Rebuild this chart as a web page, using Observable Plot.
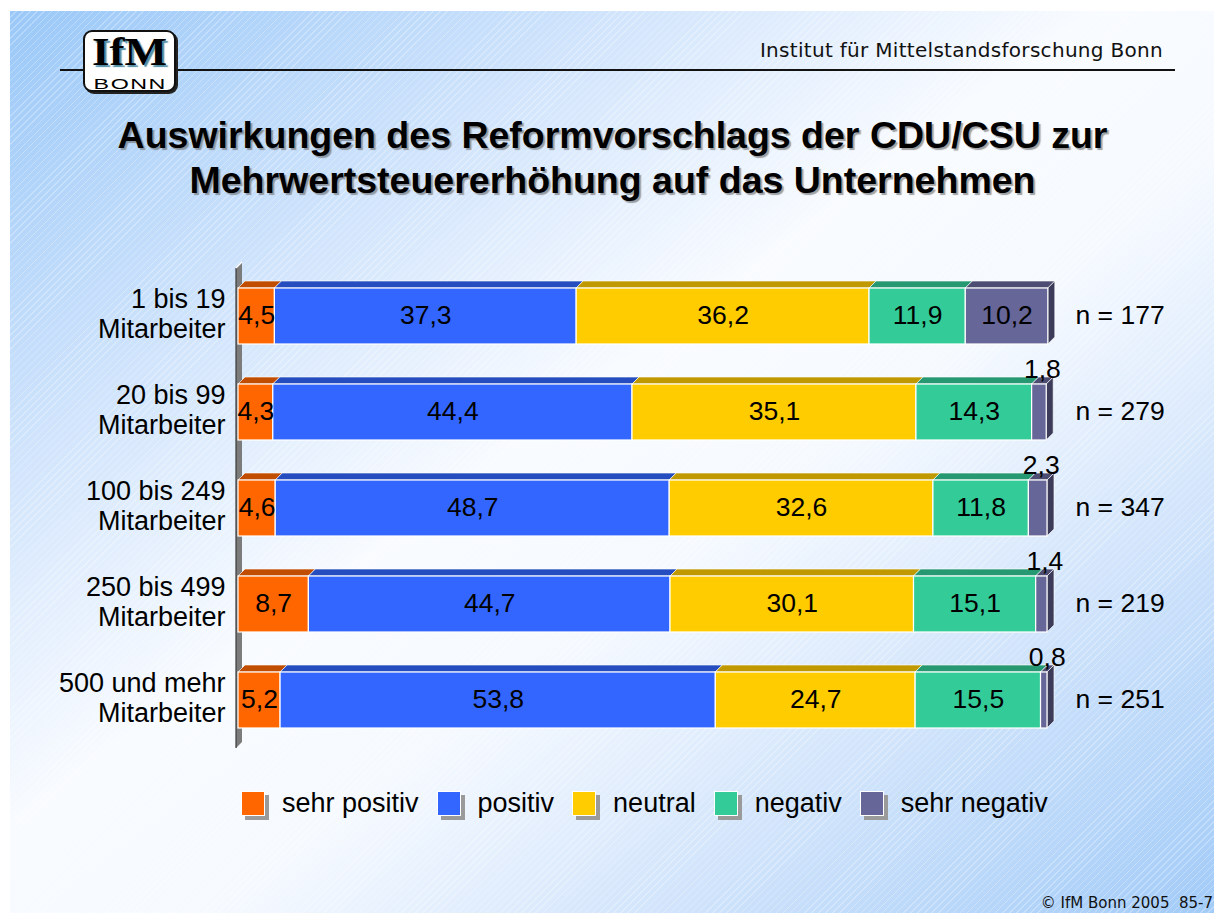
<!DOCTYPE html>
<html><head><meta charset="utf-8">
<script src="https://cdn.jsdelivr.net/npm/d3@7"></script>
<script src="https://cdn.jsdelivr.net/npm/@observablehq/plot@0.6"></script>
<style>
html,body{margin:0;padding:0;}
body{width:1217px;height:913px;position:relative;overflow:hidden;background:#fff;font-family:"Liberation Sans",Arial,sans-serif;}
#slide{position:absolute;left:10px;top:11px;width:1204px;height:902px;
 background:linear-gradient(to bottom right,#9ac8f8 0%,#d0e4fc 25%,#f8fbff 45%,#f6faff 58%,#cfe3fb 78%,#a2cbf8 100%);}
#stripes{position:absolute;left:0;top:0;width:100%;height:100%;
 background:repeating-linear-gradient(135deg,rgba(255,255,255,0) 0px,rgba(255,255,255,0) 4px,rgba(255,255,255,0.28) 4px,rgba(255,255,255,0.28) 5px);}
#hline{position:absolute;left:60px;top:69px;width:1115px;height:2px;background:#111;}
#inst{position:absolute;right:54px;top:38px;font-family:"DejaVu Sans",Verdana,sans-serif;font-size:20px;letter-spacing:0.3px;color:#111;white-space:nowrap;}
#logo{position:absolute;left:83px;top:30px;width:89px;height:58px;background:#fff;border:2px solid #111;border-radius:9px;box-shadow:2px 2px 0 #222;}
#logo .ifm{position:absolute;left:0;width:89px;top:-1px;line-height:1;text-align:center;font-family:"Liberation Serif","Times New Roman",serif;font-weight:bold;font-size:41px;color:#000;text-shadow:2px 2px 1px #4f8ea6;transform:scaleX(1.1);transform-origin:50% 50%;}
#logo .bonn{position:absolute;left:0;width:89px;top:43.5px;line-height:1;text-align:center;font-family:"Liberation Sans",Arial,sans-serif;font-size:15px;color:#000;letter-spacing:1px;text-indent:1px;transform:scaleX(1.55);transform-origin:50% 50%;}
#title{position:absolute;left:4px;top:113px;width:1217px;text-align:center;font-family:"Liberation Sans",Arial,sans-serif;font-weight:bold;font-size:37.5px;line-height:45px;color:#000;text-shadow:2px 2px 1px rgba(100,100,100,0.6);}
#chart{position:absolute;left:0;top:250px;}
#legend{position:absolute;left:241px;top:788px;display:flex;align-items:center;font-size:27px;color:#000;white-space:nowrap;}
#legend .item{display:flex;align-items:center;margin-right:18px;}
#legend .sw{width:24px;height:25px;box-shadow:4px 4px 0 #9a9a9a;border:1px solid #fff;margin-right:17px;box-sizing:border-box;}
#footer{position:absolute;right:4px;top:894px;font-family:"DejaVu Sans",Verdana,sans-serif;font-size:15px;color:#111;white-space:nowrap;}
</style>
</head><body>
<div id="slide"><div id="stripes"></div></div>
<div id="hline"></div>
<div id="logo"><div class="ifm">IfM</div><div class="bonn">BONN</div></div>
<div id="inst">Institut für Mittelstandsforschung Bonn</div>
<div id="title">Auswirkungen des Reformvorschlags der CDU/CSU zur<br>Mehrwertsteuererhöhung auf das Unternehmen</div>
<div id="chart"></div>
<div id="legend"></div>
<div id="footer">© IfM Bonn 2005&nbsp;&nbsp;85-7</div>
<script>
// ---- data ----
const categories = ["1 bis 19\nMitarbeiter", "20 bis 99\nMitarbeiter", "100 bis 249\nMitarbeiter", "250 bis 499\nMitarbeiter", "500 und mehr\nMitarbeiter"];
const series = ["sehr positiv", "positiv", "neutral", "negativ", "sehr negativ"];
const sehrPositiv = [4.5, 4.3, 4.6, 8.7, 5.2];
const positiv = [37.3, 44.4, 48.7, 44.7, 53.8];
const neutral = [36.2, 35.1, 32.6, 30.1, 24.7];
const negativ = [11.9, 14.3, 11.8, 15.1, 15.5];
const sehrNegativ = [10.2, 1.8, 2.3, 1.4, 0.8];
const nValues = [177, 279, 347, 219, 251];
const colors = ["#ff6600", "#3366ff", "#ffcc00", "#33cc99", "#666699"];

// ---- table built from arrays ----
const seriesValues = [sehrPositiv, positiv, neutral, negativ, sehrNegativ];
const table = [];
categories.forEach((cat, ci) => {
  let acc = 0;
  series.forEach((s, si) => {
    const v = seriesValues[si][ci];
    table.push({cat, series: s, value: v, x1: acc, x2: acc + v, last: si === series.length - 1});
    acc += v;
  });
});
const nTable = categories.map((cat, i) => ({cat, n: nValues[i]}));
const fmt = v => d3.format(".1f")(v).replace(".", ",");

const D = 7; // depth of the 3D faces in pixels

// top faces + right side faces, drawn with the chart's scales
const depthFaces = Plot.barX(table, {
  x1: "x1", x2: "x2", y: "cat", fill: "series",
  render(index, scales, values) {
    const g = d3.create("svg:g");
    const bw = scales.y.bandwidth();
    for (const i of index) {
      const x1 = values.x1[i], x2 = values.x2[i], y0 = values.y[i];
      const c = d3.color(values.fill[i]);
      g.append("polygon")
        .attr("points", `${x1},${y0} ${x2},${y0} ${x2 + D},${y0 - D} ${x1 + D},${y0 - D}`)
        .attr("fill", c.darker(0.8).formatHex())
        .attr("stroke", "#ffffff").attr("stroke-width", 0.8).attr("stroke-opacity", 0.8);
      if (table[i].last) {
        g.append("polygon")
          .attr("points", `${x2},${y0} ${x2 + D},${y0 - D} ${x2 + D},${y0 + bw - D} ${x2},${y0 + bw}`)
          .attr("fill", c.darker(1.5).formatHex())
          .attr("stroke", "#ffffff").attr("stroke-width", 0.8).attr("stroke-opacity", 0.8);
      }
    }
    return g.node();
  }
});

// left wall
const wall = Plot.ruleX([0], {
  render(index, scales, values, dims) {
    const x0 = scales.x(0);
    const top = dims.marginTop + 4, bottom = dims.height - dims.marginBottom - 9;
    const g = d3.create("svg:g");
    g.append("polygon")
      .attr("points", `${x0 - 2},${top + 6} ${x0 + 4},${top} ${x0 + 4},${bottom - 6} ${x0 - 2},${bottom}`)
      .attr("fill", "#7c7c7c");
    g.append("line").attr("x1", x0 - 2).attr("x2", x0 - 2).attr("y1", top + 6).attr("y2", bottom)
      .attr("stroke", "#3a3a3a").attr("stroke-width", 1.2);
    g.append("line").attr("x1", x0 - 2).attr("x2", x0 + 4).attr("y1", top + 6).attr("y2", top)
      .attr("stroke", "#ffffff").attr("stroke-width", 1.2);
    return g.node();
  }
});

const chart = Plot.plot({
  width: 1217,
  height: 520,
  marginLeft: 238,
  marginRight: 170,
  marginTop: 8,
  marginBottom: 13,
  style: {fontFamily: "'Liberation Sans', Arial, sans-serif", fontSize: "26px", color: "#000", background: "transparent", overflow: "visible"},
  x: {domain: [0, 100], axis: null},
  y: {domain: categories, paddingInner: 0.418, paddingOuter: 0.3, axis: null},
  color: {domain: series, range: colors},
  marks: [
    wall,
    depthFaces,
    Plot.barX(table, {x1: "x1", x2: "x2", y: "cat", fill: "series", stroke: "#ffffff", strokeWidth: 1.2}),
    Plot.text(table.filter(d => d.value >= 3), {x: d => (d.x1 + d.x2) / 2, y: "cat", text: d => fmt(d.value), fontSize: 26.5, fill: "#000", dy: -1}),
    Plot.text(table.filter(d => d.value < 3), {x: d => (d.x1 + d.x2) / 2, y: "cat", text: d => fmt(d.value), fontSize: 26.5, fill: "#000", dx: 3, dy: -43}),
    Plot.text(categories, {x: 0, y: d => d, text: d => d, textAnchor: "end", dx: -13, dy: -3, fontSize: 27, lineHeight: 1.12, fill: "#000"}),
    Plot.text(nTable, {x: 100, y: "cat", text: d => "n = " + d.n, textAnchor: "start", dx: 28, dy: -1, fontSize: 26.5, fill: "#000"})
  ]
});
document.getElementById("chart").appendChild(chart);

// legend
const legend = d3.select("#legend");
series.forEach((s, i) => {
  const item = legend.append("div").attr("class", "item");
  item.append("div").attr("class", "sw").style("background", colors[i]);
  item.append("span").text(s);
});
</script>
</body></html>
